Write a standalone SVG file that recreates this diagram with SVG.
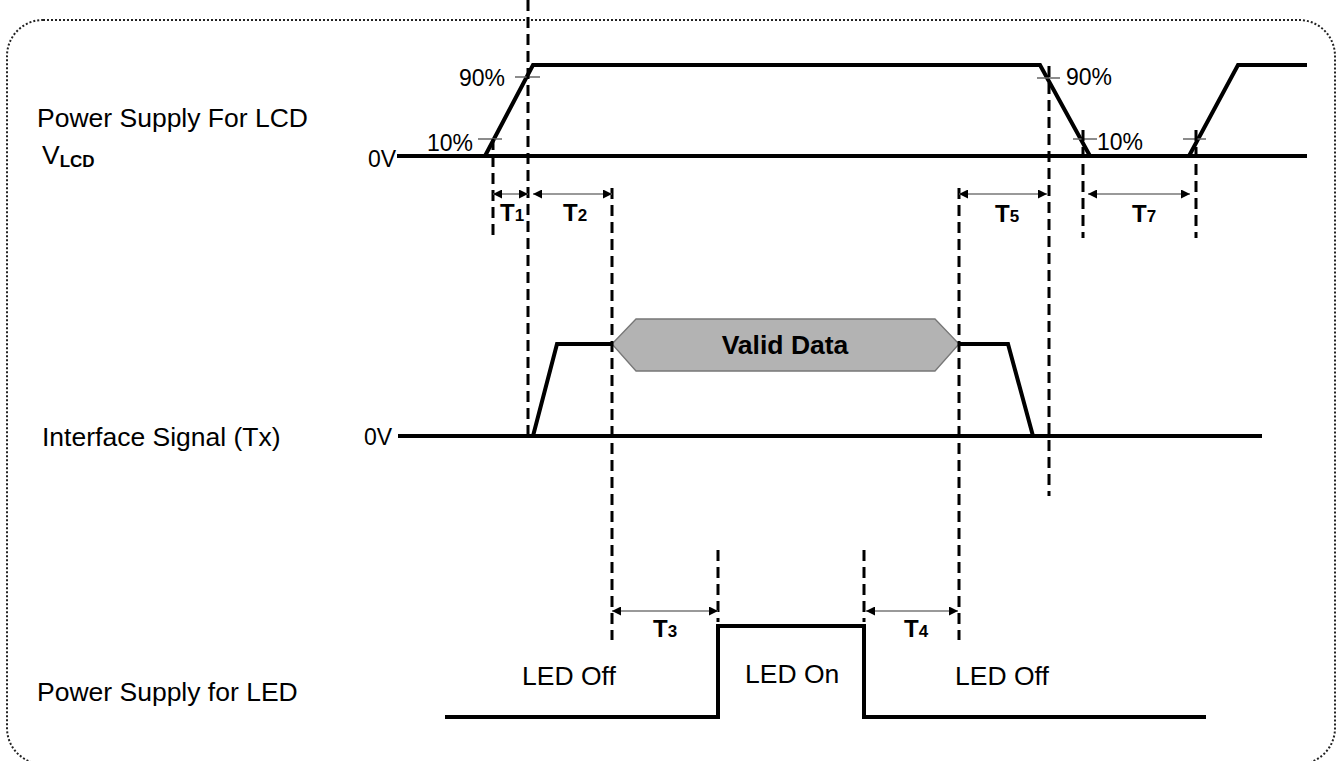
<svg xmlns="http://www.w3.org/2000/svg" width="1338" height="761" viewBox="0 0 1338 761">
<style>
.wave{fill:none;stroke:#000;stroke-width:4;stroke-linejoin:miter}
.dash{fill:none;stroke:#000;stroke-width:3;stroke-dasharray:11 6}
.tick{stroke:#666;stroke-width:1.5}
.dim{stroke:#777;stroke-width:1.3;marker-start:url(#ah);marker-end:url(#ah)}
.lbl{font-family:"Liberation Sans",Arial,sans-serif;font-size:26.5px;fill:#000}
.pct{font-family:"Liberation Sans",Arial,sans-serif;font-size:23px;fill:#000}
.t{font-family:"Liberation Sans",Arial,sans-serif;font-weight:bold;font-size:24px;fill:#000}
.sub{font-size:17px}
</style>
<defs>
<marker id="ah" viewBox="0 0 10 10" refX="10" refY="5" markerWidth="10" markerHeight="9" markerUnits="userSpaceOnUse" orient="auto-start-reverse">
<path d="M0,0 L10,5 L0,10 z" fill="#000"/>
</marker>
</defs>
<rect id="frame" x="7" y="20" width="1328" height="744" rx="36" fill="none" stroke="#222" stroke-width="2" stroke-dasharray="2 2"/>

<g id="vlcd">
<text class="lbl" x="37" y="127">Power Supply For LCD</text>
<text class="lbl" x="42" y="164">V<tspan font-weight="bold" font-size="17" dy="3">LCD</tspan></text>
<text class="pct" x="368" y="167" font-size="22">0V</text>
<line class="wave" x1="397" y1="156" x2="1307" y2="156"/>
<polyline class="wave" points="485,156 533,65 1040,65 1090,156"/>
<polyline class="wave" points="1189,156 1238,65 1307,65"/>
<line class="tick" x1="515" y1="77" x2="540" y2="77"/>
<line class="tick" x1="478" y1="139" x2="502" y2="139"/>
<line class="tick" x1="1037" y1="78" x2="1060" y2="78"/>
<line class="tick" x1="1073" y1="139" x2="1097" y2="139"/>
<line class="tick" x1="1183" y1="139" x2="1206" y2="139"/>
<text class="pct" x="459" y="86">90%</text>
<text class="pct" x="427" y="151">10%</text>
<text class="pct" x="1066" y="85">90%</text>
<text class="pct" x="1097" y="150">10%</text>
</g>

<g id="interface">
<text class="lbl" x="42" y="446">Interface Signal (Tx)</text>
<text class="pct" x="364" y="445" font-size="22">0V</text>
<line class="wave" x1="398" y1="436" x2="1262" y2="436"/>
<polyline class="wave" points="533,436 557,344 612,344"/>
<polyline class="wave" points="959,344 1008,344 1033,436"/>
<polygon points="612,344 636,319 935,319 959,344 935,371 636,371" fill="#b3b3b3" stroke="#777" stroke-width="1.3"/>
<text class="lbl" x="785" y="354" font-weight="bold" text-anchor="middle">Valid Data</text>
</g>

<g id="led">
<text class="lbl" x="37" y="701">Power Supply for LED</text>
<polyline class="wave" points="445,717 718,717 718,626 864,626 864,717 1206,717"/>
<text class="lbl" x="522" y="685">LED Off</text>
<text class="lbl" x="745" y="683">LED On</text>
<text class="lbl" x="955" y="685">LED Off</text>
</g>

<g id="connectors">
<line class="dash" x1="528" y1="0" x2="528" y2="436"/>
<line class="dash" x1="493" y1="139" x2="493" y2="238"/>
<line class="dash" x1="612" y1="188" x2="612" y2="640"/>
<line class="dash" x1="959" y1="188" x2="959" y2="640"/>
<line class="dash" x1="1049" y1="66" x2="1049" y2="496"/>
<line class="dash" x1="1083" y1="130" x2="1083" y2="238"/>
<line class="dash" x1="1196" y1="130" x2="1196" y2="238"/>
<line class="dash" x1="718" y1="550" x2="718" y2="622"/>
<line class="dash" x1="864" y1="550" x2="864" y2="622"/>
<line class="dim" x1="493" y1="194" x2="528" y2="194"/>
<line class="dim" x1="533" y1="194" x2="612" y2="194"/>
<line class="dim" x1="959" y1="194" x2="1047" y2="194"/>
<line class="dim" x1="1088" y1="194" x2="1190" y2="194"/>
<line class="dim" x1="612" y1="611" x2="718" y2="611"/>
<line class="dim" x1="866" y1="611" x2="958" y2="611"/>
<text class="t" x="500" y="221">T<tspan class="sub">1</tspan></text>
<text class="t" x="563" y="221">T<tspan class="sub">2</tspan></text>
<text class="t" x="995" y="222">T<tspan class="sub">5</tspan></text>
<text class="t" x="1132" y="222">T<tspan class="sub">7</tspan></text>
<text class="t" x="653" y="637">T<tspan class="sub">3</tspan></text>
<text class="t" x="904" y="637">T<tspan class="sub">4</tspan></text>
</g>
</svg>
